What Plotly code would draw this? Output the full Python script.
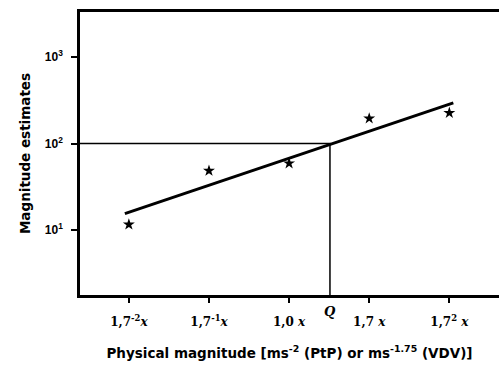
import plotly.graph_objects as go

# Data (x in powers of 1.7 relative to x)
tick_pos = [-2, -1, 0, 1, 2]
tick_labels = ["1,7<sup>-2</sup><i>x</i>", "1,7<sup>-1</sup><i>x</i>", "1,0 <i>x</i>",
               "1,7 <i>x</i>", "1,7<sup>2</sup> <i>x</i>"]
star_x = [-2, -1, 0, 1, 2]
star_y = [11.6, 48.5, 59, 195, 226]
fit_x = [-2.05, 2.05]
fit_y = [15.5, 295]
q_x = 0.51
q_y = 100
y_tickvals = [10, 100, 1000]
y_ticktext = ["10<sup>1</sup>", "10<sup>2</sup>", "10<sup>3</sup>"]

fig = go.Figure()
# reference lines through Q
fig.add_trace(go.Scatter(x=[-2.62, q_x, q_x], y=[q_y, q_y, 1.7], mode="lines",
                         line=dict(color="black", width=1.5), showlegend=False, hoverinfo="skip"))
fig.add_trace(go.Scatter(x=fit_x, y=fit_y, mode="lines",
                         line=dict(color="black", width=3), showlegend=False))
fig.add_trace(go.Scatter(x=star_x, y=star_y, mode="markers",
                         marker=dict(symbol="star", size=9, color="black"), showlegend=False))

fig.add_annotation(x=q_x, y=0, xref="x", yref="paper", yshift=-26, text="<b><i>Q</i></b>",
                   showarrow=False, font=dict(family="DejaVu Serif", size=13, color="black"))

fig.update_xaxes(range=[-2.61, 2.62], tickvals=tick_pos, ticktext=tick_labels,
                 ticks="outside", ticklen=5, tickwidth=1.5, tickcolor="black",
                 showline=True, linewidth=2.5, linecolor="black", mirror=True,
                 showgrid=False, zeroline=False, ticklabelstandoff=9,
                 tickfont=dict(family="DejaVu Serif", size=12, color="black", weight="bold"),
                 title=dict(text="<b>Physical magnitude [ms<sup>-2</sup> (PtP) or ms<sup>-1.75</sup> (VDV)]</b>",
                            font=dict(family="DejaVu Sans", size=13.5, color="black"), standoff=21))
fig.update_yaxes(type="log", range=[0.25, 3.52], tickvals=y_tickvals, ticktext=y_ticktext,
                 ticks="outside", ticklen=6, tickwidth=1.5, tickcolor="black",
                 showline=True, linewidth=2.5, linecolor="black", mirror=False,
                 showgrid=False, zeroline=False, ticklabelstandoff=6,
                 tickfont=dict(family="Liberation Sans", size=12, color="black", weight="bold"),
                 title=dict(text="<b>Magnitude estimates</b>",
                            font=dict(family="DejaVu Sans", size=13.5, color="black"), standoff=12))
fig.update_layout(width=499, height=365, margin=dict(l=80, r=0, t=12, b=70),
                  plot_bgcolor="white", paper_bgcolor="white")
fig.write_html("out.html")
